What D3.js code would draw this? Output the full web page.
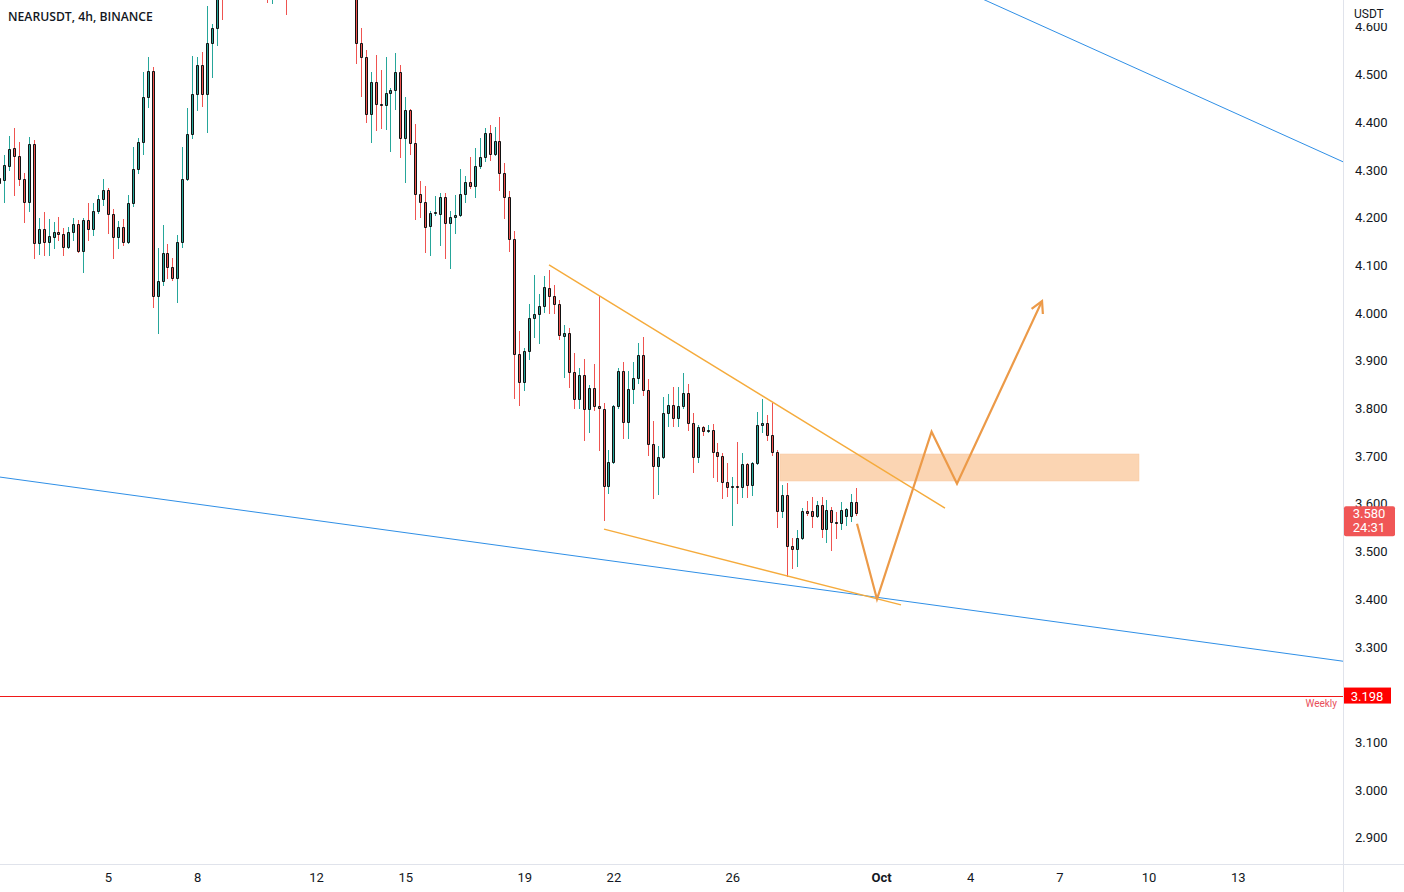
<!DOCTYPE html>
<html><head><meta charset="utf-8">
<script src="https://cdn.jsdelivr.net/npm/d3@7"></script>
<style>
html,body{margin:0;padding:0;background:#fff;}
svg{display:block;}
text{font-family:Roboto,"Liberation Sans",Arial,sans-serif;}
</style></head><body>
<svg id="c" width="1404" height="892"></svg>
<script>
// ---- DATA ----
const title = "NEARUSDT, 4h, BINANCE";
const firstBar = "2022-09-01T08:00:00Z";   // 4h bars
const barHours = 4;
const opens = [4.273,4.279,4.308,4.346,4.329,4.281,4.233,4.354,4.147,4.176,4.149,4.160,4.170,4.166,4.138,4.170,4.187,4.130,4.195,4.176,
4.214,4.239,4.258,4.208,4.159,4.180,4.149,4.231,4.302,4.358,4.453,4.507,4.036,4.067,4.126,4.097,4.074,4.149,4.281,4.375,
4.459,4.520,4.459,4.566,4.598,4.70,4.67,4.78,4.82,4.92,4.96,4.93,4.86,4.78,4.74,4.72,4.76,4.85,4.79,4.70,
4.81,4.93,5.05,5.12,5.18,5.08,5.02,5.06,5.00,4.95,4.90,4.94,4.86,4.566,4.537,4.417,4.484,4.438,4.436,4.461,
4.468,4.505,4.367,4.426,4.356,4.249,4.233,4.182,4.210,4.208,4.243,4.189,4.201,4.206,4.249,4.275,4.266,4.308,4.327,4.377,
4.333,4.361,4.294,4.243,4.155,3.914,3.855,3.920,3.990,3.998,4.015,4.053,4.036,4.019,3.952,3.958,3.876,3.820,3.870,3.799,
3.843,3.805,3.799,3.637,3.688,3.805,3.878,3.772,3.841,3.864,3.912,3.839,3.725,3.679,3.698,3.790,3.807,3.780,3.805,3.832,
3.770,3.698,3.761,3.753,3.755,3.709,3.700,3.646,3.635,3.637,3.635,3.684,3.639,3.686,3.765,3.770,3.744,3.709,3.585,3.619,
3.512,3.505,3.528,3.585,3.585,3.574,3.598,3.547,3.587,3.562,3.560,3.574,3.574,3.604];
const highs = [4.331,4.331,4.371,4.388,4.358,4.294,4.369,4.363,4.199,4.212,4.197,4.191,4.201,4.178,4.180,4.199,4.195,4.199,4.231,4.231,
4.247,4.281,4.262,4.218,4.193,4.197,4.247,4.348,4.367,4.505,4.537,4.516,4.136,4.185,4.145,4.115,4.164,4.348,4.430,4.539,
4.537,4.547,4.644,4.606,4.75,4.78,4.80,4.86,4.95,5.02,5.05,4.98,4.90,4.82,4.80,4.79,4.88,4.90,4.82,4.84,
4.96,5.10,5.20,5.25,5.22,5.14,5.10,5.12,5.04,5.00,4.98,4.97,4.90,4.598,4.551,4.505,4.541,4.509,4.537,4.472,
4.545,4.520,4.453,4.428,4.396,4.277,4.266,4.214,4.245,4.252,4.252,4.214,4.247,4.302,4.287,4.327,4.346,4.367,4.388,4.394,
4.390,4.411,4.314,4.256,4.172,3.962,3.927,4.019,4.080,4.040,4.078,4.090,4.059,4.027,3.975,3.969,3.916,3.885,3.904,3.849,
3.893,4.036,3.811,3.713,3.807,3.885,3.897,3.879,3.897,3.937,3.950,3.862,3.774,3.721,3.824,3.830,3.845,3.845,3.874,3.851,
3.790,3.765,3.763,3.765,3.767,3.727,3.707,3.686,3.656,3.730,3.707,3.686,3.688,3.793,3.820,3.786,3.811,3.713,3.639,3.644,
3.528,3.545,3.591,3.606,3.614,3.606,3.614,3.608,3.593,3.583,3.604,3.591,3.621,3.633];
const lows = [4.210,4.233,4.300,4.247,4.268,4.191,4.214,4.115,4.124,4.122,4.122,4.136,4.153,4.122,4.136,4.153,4.128,4.086,4.153,4.164,
4.210,4.226,4.168,4.115,4.136,4.143,4.147,4.224,4.294,4.333,4.432,4.013,3.958,4.059,4.074,4.069,4.023,4.138,4.279,4.367,
4.426,4.434,4.379,4.495,4.562,4.616,4.66,4.74,4.80,4.88,4.90,4.82,4.74,4.70,4.652,4.650,4.73,4.76,4.627,4.68,
4.79,4.90,5.00,5.06,5.05,4.98,4.96,4.98,4.90,4.85,4.84,4.80,4.524,4.455,4.400,4.359,4.384,4.388,4.386,4.340,
4.428,4.327,4.275,4.333,4.197,4.201,4.128,4.122,4.206,4.143,4.115,4.094,4.168,4.203,4.233,4.262,4.243,4.304,4.319,4.321,
4.331,4.258,4.199,4.130,3.822,3.807,3.839,3.904,3.950,3.937,4.002,4.000,4.000,3.946,3.866,3.845,3.801,3.801,3.734,3.751,
3.797,3.713,3.566,3.623,3.686,3.801,3.738,3.738,3.811,3.853,3.828,3.702,3.612,3.621,3.696,3.763,3.763,3.763,3.801,3.755,
3.667,3.688,3.744,3.751,3.656,3.648,3.612,3.616,3.556,3.602,3.614,3.614,3.618,3.683,3.751,3.734,3.702,3.551,3.572,3.449,
3.465,3.470,3.526,3.577,3.551,3.572,3.530,3.520,3.503,3.528,3.547,3.556,3.564,3.577];
const closes = [4.283,4.310,4.344,4.329,4.281,4.233,4.354,4.147,4.176,4.149,4.162,4.170,4.166,4.138,4.170,4.187,4.130,4.195,4.176,4.214,
4.239,4.258,4.208,4.159,4.180,4.149,4.231,4.302,4.358,4.453,4.507,4.036,4.067,4.126,4.097,4.074,4.149,4.281,4.375,4.459,
4.520,4.459,4.566,4.598,4.70,4.67,4.78,4.82,4.92,4.96,4.93,4.86,4.78,4.74,4.72,4.76,4.85,4.79,4.70,4.81,
4.93,5.05,5.12,5.18,5.08,5.02,5.06,5.00,4.95,4.90,4.94,4.86,4.566,4.537,4.417,4.484,4.438,4.436,4.461,4.468,
4.505,4.367,4.426,4.356,4.249,4.233,4.180,4.210,4.212,4.243,4.189,4.201,4.206,4.249,4.275,4.266,4.308,4.327,4.377,4.333,
4.361,4.294,4.243,4.155,3.914,3.855,3.920,3.990,3.998,4.015,4.055,4.036,4.019,3.954,3.958,3.876,3.820,3.870,3.799,3.843,
3.805,3.801,3.637,3.688,3.805,3.878,3.772,3.841,3.864,3.912,3.839,3.725,3.679,3.698,3.790,3.807,3.780,3.805,3.832,3.770,
3.698,3.761,3.753,3.755,3.709,3.700,3.646,3.635,3.637,3.635,3.684,3.639,3.686,3.765,3.770,3.744,3.709,3.585,3.619,3.512,
3.505,3.528,3.585,3.581,3.574,3.598,3.547,3.587,3.562,3.560,3.587,3.589,3.604,3.580];

const priceTicks = [2.9,3.0,3.1,3.3,3.4,3.5,3.6,3.7,3.8,3.9,4.0,4.1,4.2,4.3,4.4,4.5,4.6];
const timeTicks = ["2022-09-05","2022-09-08","2022-09-12","2022-09-15","2022-09-19","2022-09-22","2022-09-26",
                   "2022-10-01","2022-10-04","2022-10-07","2022-10-10","2022-10-13"];
const lastPrice = 3.580, countdown = "24:31";
const weeklyLevel = 3.198, weeklyLabel = "Weekly";
// drawings: [time, price]
const blueUpper = [["2022-10-04T11:56", 4.656], ["2022-10-16T12:58", 4.317]];
const blueLower = [["2022-09-01T08:48", 3.656], ["2022-10-16T12:58", 3.270]];
const wedgeUpper = [["2022-09-19T20:00", 4.101], ["2022-10-03T03:40", 3.591]];
const wedgeLower = [["2022-09-21T16:24", 3.547], ["2022-10-01T16:10", 3.388]];
const zone = [["2022-09-27T14:28", 3.7044], ["2022-10-09T16:16", 3.6478]];
const projection = [["2022-09-30T04:38", 3.558], ["2022-09-30T20:46", 3.400], ["2022-10-02T16:50", 3.751],
                    ["2022-10-03T13:21", 3.642], ["2022-10-06T10:00", 4.025]];

// ---- CHART ----
const W = 1404, H = 892, plotW = 1343, plotH = 864;
const svg = d3.select("#c");
const T = s => new Date(s.length <= 10 ? s + "T00:00:00Z" : (s.endsWith("Z") ? s : s + ":00Z"));
const t0 = T(firstBar).getTime();
const bars = opens.map((o, i) => ({t: new Date(t0 + i * barHours * 3600e3), o, h: highs[i], l: lows[i], c: closes[i]}));

const x = d3.scaleUtc().domain([T("2022-09-01"), T("2022-10-01")]).range([-10.9, 881]);
const y = d3.scaleLinear().domain([3.0, 4.0]).range([790, 313]);

svg.append("rect").attr("width", W).attr("height", H).attr("fill", "#fff");
svg.append("defs").append("clipPath").attr("id", "plot").append("rect").attr("width", plotW).attr("height", plotH);
const plot = svg.append("g").attr("clip-path", "url(#plot)");

const UP = "#26a69a", DN = "#ef5350";
// blue trend lines (extended)
function extLine(pts, color, w) {
  const [a, b] = pts.map(p => [x(T(p[0])), y(p[1])]);
  const k = (b[1] - a[1]) / (b[0] - a[0]);
  const x1 = -50, x2 = plotW + 50;
  plot.append("line").attr("x1", x1).attr("y1", a[1] + k * (x1 - a[0]))
    .attr("x2", x2).attr("y2", a[1] + k * (x2 - a[0]))
    .attr("stroke", color).attr("stroke-width", w);
}
extLine(blueUpper, "#2f8fe6", 1);
extLine(blueLower, "#2f8fe6", 1);

// weekly level
plot.append("line").attr("x1", 0).attr("x2", plotW).attr("y1", Math.round(y(weeklyLevel)) + 0.5).attr("y2", Math.round(y(weeklyLevel)) + 0.5)
  .attr("stroke", "#f01818").attr("stroke-width", 1);
plot.append("text").attr("x", plotW - 6).attr("y", y(weeklyLevel) + 11).attr("text-anchor", "end")
  .attr("font-size", 10).attr("fill", "#e8505c").text(weeklyLabel);

// zone
plot.append("rect").attr("x", x(T(zone[0][0]))).attr("y", y(zone[0][1]))
  .attr("width", x(T(zone[1][0])) - x(T(zone[0][0]))).attr("height", y(zone[1][1]) - y(zone[0][1]))
  .attr("fill", "#fbd5b3").attr("stroke", "#f8c8a0").attr("stroke-width", 0.5);

// candles
const cg = plot.append("g");
bars.forEach(d => {
  const cx = Math.round(x(d.t));
  const col = d.c >= d.o ? UP : DN;
  cg.append("line").attr("x1", cx + 0.5).attr("x2", cx + 0.5)
    .attr("y1", Math.round(y(d.h))).attr("y2", Math.round(y(d.l)) + 1)
    .attr("stroke", col).attr("stroke-width", 1);
  const yt = Math.round(y(Math.max(d.o, d.c))) + 0.5;
  const yb = Math.round(y(Math.min(d.o, d.c))) + 0.5;
  cg.append("path").attr("d", `M${cx - 0.5},${yt}H${cx + 1.5}V${yb}H${cx - 0.5}Z`)
    .attr("fill", col).attr("stroke", "#111").attr("stroke-width", 1);
});

// wedge lines
[wedgeUpper, wedgeLower].forEach(p => {
  plot.append("line").attr("x1", x(T(p[0][0]))).attr("y1", y(p[0][1]))
    .attr("x2", x(T(p[1][0]))).attr("y2", y(p[1][1]))
    .attr("stroke", "#f5ab3c").attr("stroke-width", 1.4);
});

// projection arrow
const pp = projection.map(p => [x(T(p[0])), y(p[1])]);
plot.append("path").attr("d", d3.line()(pp)).attr("fill", "none")
  .attr("stroke", "#ec9a48").attr("stroke-width", 2.2).attr("stroke-linejoin", "miter");
{
  const [ax, ay] = pp[pp.length - 2], [bx, by] = pp[pp.length - 1];
  const ang = Math.atan2(by - ay, bx - ax), L = 13, sp = 0.5;
  const p1 = [bx - L * Math.cos(ang - sp), by - L * Math.sin(ang - sp)];
  const p2 = [bx - L * Math.cos(ang + sp), by - L * Math.sin(ang + sp)];
  plot.append("path").attr("d", d3.line()([p1, [bx, by], p2])).attr("fill", "none")
    .attr("stroke", "#ec9a48").attr("stroke-width", 2.2);
}

// title
svg.append("text").attr("x", 8).attr("y", 21).attr("font-size", 12.2).attr("font-weight", 600)
  .style("font-family", "'Open Sans',sans-serif").attr("fill", "#131722").text(title);

// axes borders
svg.append("line").attr("x1", plotW + 0.5).attr("x2", plotW + 0.5).attr("y1", 0).attr("y2", H).attr("stroke", "#e0e3eb");
svg.append("line").attr("x1", 0).attr("x2", W).attr("y1", plotH + 0.5).attr("y2", plotH + 0.5).attr("stroke", "#e0e3eb");

// price axis
const ya = svg.append("g").attr("transform", `translate(${plotW},0)`)
  .call(d3.axisRight(y).tickValues(priceTicks).tickFormat(d3.format(".3f")).tickSize(0).tickPadding(12));
ya.select(".domain").remove();
ya.selectAll("text").attr("font-size", 13).attr("fill", "#131722").style("font-family", "Roboto,Arial,sans-serif");
svg.append("rect").attr("x", plotW + 1).attr("y", 0).attr("width", W - plotW - 1).attr("height", 23).attr("fill", "#fff");
svg.append("text").attr("x", 1354).attr("y", 18).attr("font-size", 12).attr("fill", "#131722").text("USDT");

// time axis
const fmt = d => d.getUTCDate() === 1 ? d3.utcFormat("%b")(d) : String(d.getUTCDate());
const xa = svg.append("g").attr("transform", `translate(0,${plotH})`)
  .call(d3.axisBottom(x).tickValues(timeTicks.map(T)).tickFormat(fmt).tickSize(0).tickPadding(9));
xa.select(".domain").remove();
xa.selectAll("text").attr("font-size", 13).attr("fill", "#131722").style("font-family", "Roboto,Arial,sans-serif")
  .attr("font-weight", d => d.getUTCDate() === 1 ? 700 : 400);

// last price label
const ly = y(lastPrice);
svg.append("rect").attr("x", plotW + 1).attr("y", ly - 7).attr("width", 51).attr("height", 30).attr("rx", 2).attr("fill", "#f05656");
svg.append("text").attr("x", 1369).attr("y", ly + 5).attr("text-anchor", "middle").attr("font-size", 13).attr("fill", "#fff").text(d3.format(".3f")(lastPrice));
svg.append("text").attr("x", 1369).attr("y", ly + 19).attr("text-anchor", "middle").attr("font-size", 13).attr("fill", "#fff").text(countdown);
// weekly label
const wy = y(weeklyLevel);
svg.append("rect").attr("x", plotW + 1).attr("y", wy - 8).attr("width", 47).attr("height", 16).attr("fill", "#ff0000");
svg.append("text").attr("x", 1367).attr("y", wy + 5).attr("text-anchor", "middle").attr("font-size", 13).attr("fill", "#fff").text(d3.format(".3f")(weeklyLevel));
</script>
</body></html>
